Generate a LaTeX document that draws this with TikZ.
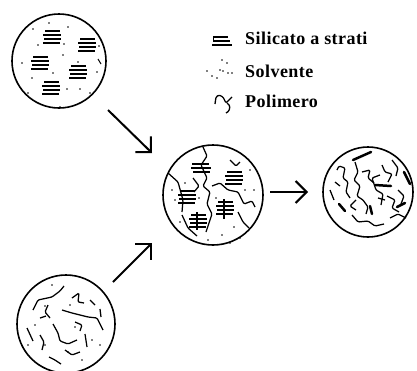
\documentclass[tikz,border=0pt]{standalone}
\usepackage{fontspec}
\setmainfont{Liberation Serif}[LetterSpace=2.5]
\usetikzlibrary{arrows.meta}

\tikzset{
  circ/.style={circle, draw, line width=1.6pt, inner sep=0pt},
  arr/.style={line width=2pt, -{Straight Barb[length=11pt,width=22pt,line width=2pt]}},
  bar/.style={line width=2.3pt},
  poly/.style={line width=1.25pt, rounded corners=1.2pt},
  thick bar/.style={line width=2.5pt, line cap=round},
  lbl/.style={anchor=base west, inner sep=0pt, font=\fontsize{18}{20}\selectfont\bfseries},
  sil/.pic={
    \draw[bar] (-7,-6) -- (8,-6);
    \draw[bar] (-9,-2) -- (9,-2);
    \draw[bar] (-8,2) -- (9,2);
    \draw[bar] (-9,6) -- (8,6);
  },
  sil3/.pic={
    \draw[bar] (-9,-4) -- (8,-4);
    \draw[bar] (-10,0) -- (10,0);
    \draw[bar] (-8,4) -- (9,4);
  }
}
\newcommand{\speckles}[1]{\foreach \p in {#1} \fill \p circle (0.9);}

\begin{document}
\begin{tikzpicture}[x=1pt, y=-1pt]
  \useasboundingbox (0,0) rectangle (417,370);

  % the four vessels
  \node[circ, minimum size=94pt] (tl) at (59,61) {};
  \node[circ, minimum size=98pt] (bl) at (66,324) {};
  \node[circ, minimum size=100pt] (mid) at (213,195) {};
  \node[circ, minimum size=90pt] (rt) at (368,192) {};

  % silicate in solvent
  \pic at (52,37) {sil};
  \pic at (87,45) {sil};
  \pic at (40,63) {sil};
  \pic at (78,72) {sil};
  \pic at (51,88) {sil};
  \speckles{(49,23),(68,27),(33,29),(99,46),(22,63),(63,55),(78,62),(53,73),(97,72),(32,78),(28,93),(80,89),(67,89),(60,107),(90,93),(64,44),(38,45)}
  \draw[line width=1pt] (98,59) -- (101,64);

  % polymer in solvent
  \draw[poly] (33,310) -- (38,300) -- (52,297) -- (60,291) -- (64,286);
  \draw[poly] (72,298) -- (79,293) -- (78,302) -- (84,303);
  \draw[poly] (62,310) -- (72,313) -- (80,315) -- (88,317) -- (97,318) -- (100,324) -- (103,330);
  \draw[poly] (53,324) -- (58,333) -- (60,341) -- (68,344) -- (77,340);
  \draw[poly] (27,328) -- (33,341);
  \draw[poly] (85,334) -- (87,347);
  \draw[poly] (49,357) -- (55,360) -- (61,364);
  \draw[poly] (100,309) -- (101,317);
  \draw[poly] (40,318) -- (46,316);
  \draw[poly] (48,305) -- (45,312) -- (50,318);
  \draw[poly] (75,322) -- (82,325) -- (80,331);
  \draw[poly] (65,350) -- (72,355) -- (80,352);
  \draw[poly] (40,335) -- (44,342) -- (42,350);
  \draw[poly] (90,300) -- (95,305);
  \speckles{(52,285),(35,325),(75,327),(92,340),(45,345),(68,352),(100,345),(28,345),(82,360),(70,305),(45,306)}

  % mixture: silicate, polymer and solvent
  \pic at (201,168) {sil3};
  \pic at (234,178) {sil};
  \pic at (187,197) {sil};
  \pic at (225,208) {sil};
  \pic at (198,221) {sil};
  \draw[line width=1.2pt] (224,199) -- (224,219);
  \draw[line width=1.2pt] (197,212) -- (197,230);
  \draw[poly] (168,173) -- (178,182) -- (183,200) -- (182,212);
  \draw[poly] (203,147) -- (207,156) -- (201,165) -- (207,178) -- (203,186) -- (210,192) -- (207,204) -- (212,214) -- (206,232);
  \draw[poly] (212,186) -- (220,183) -- (228,190) -- (238,192) -- (244,204) -- (252,201) -- (255,207);
  \draw[poly] (193,178) -- (199,186) -- (194,192);
  \draw[poly] (182,215) -- (188,228) -- (197,236);
  \draw[poly] (238,212) -- (243,222) -- (249,228);
  \draw[poly] (230,160) -- (236,166) -- (240,162);
  \speckles{(185,183),(175,200),(180,222),(234,227),(245,190),(254,190),(222,235),(230,243),(208,240),(250,170),(199,198),(216,198),(172,190),(240,238)}

  % exfoliated nanocomposite
  \draw[poly] (337,170) -- (339,166) -- (345,168) -- (343,178) -- (348,182) -- (346,192) -- (350,198);
  \draw[poly] (355,162) -- (358,172) -- (354,180) -- (360,186) -- (357,196) -- (363,200) -- (368,207) -- (366,214);
  \draw[poly] (382,165) -- (385,172) -- (392,174) -- (388,182);
  \draw[poly] (380,175) -- (372,178) -- (376,190) -- (383,194) -- (381,205);
  \draw[poly] (352,215) -- (358,222) -- (368,221) -- (375,226) -- (384,224);
  \draw[poly] (387,196) -- (395,200) -- (392,208) -- (399,212);
  \draw[poly] (362,172) -- (370,170) -- (368,178) -- (374,183);
  \draw[poly] (398,190) -- (404,196) -- (401,204);
  \draw[poly] (390,218) -- (398,214) -- (406,218);
  \draw[poly] (330,190) -- (334,200);
  \draw[poly] (356,200) -- (350,206) -- (356,210);
  \draw[poly] (392,160) -- (398,168) -- (396,176);
  \draw[poly] (335,182) -- (340,186);
  \draw[poly] (385,200) -- (378,198);
  \draw[thick bar] (353,160) -- (371,152);
  \draw[thick bar] (404,172) -- (410,184);
  \draw[thick bar] (375,185) -- (391,186);
  \draw[thick bar] (339,204) -- (345,211);
  \draw[thick bar] (370,206) -- (372,214);
  \draw[thick bar] (397,207) -- (405,203);

  % process arrows
  \coordinate (a1s) at (108,110);
  \coordinate (a1e) at (152,153);
  \coordinate (a2s) at (113,282);
  \coordinate (a2e) at (152,243);
  \coordinate (a3s) at (270,192);
  \coordinate (a3e) at (308,192);
  \draw[arr] (a1s) -- (a1e);
  \draw[arr] (a2s) -- (a2e);
  \draw[arr] (a3s) -- (a3e);

  % legend
  \draw[bar] (213,37) -- (228,37);
  \draw[line width=1pt] (213,37) -- (213,41);
  \draw[bar] (213,41) -- (230,41);
  \draw[bar] (212,45) -- (232,45);
  \node[lbl] (l1) at (245,44) {Silicato a strati};

  \speckles{(222,60),(227,63),(220,70),(223,71),(228,73),(232,73),(207,71),(212,76),(217,78)}
  \node[lbl] (l2) at (245,77) {Solvente};

  \draw[poly, line width=1.3pt] (215,104) -- (216,97) -- (219,95) -- (223,97) -- (226,103) -- (229,100) -- (232,97);
  \draw[poly, line width=1.3pt] (227,103) -- (230,106) -- (229,111) -- (226,113);
  \node[lbl] (l3) at (245,107) {Polimero};
\end{tikzpicture}
\end{document}
